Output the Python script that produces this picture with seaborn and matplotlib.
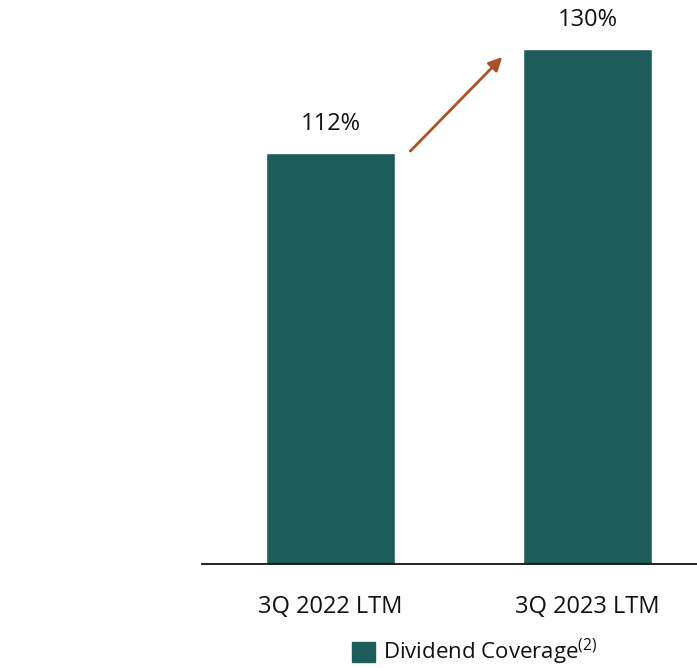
import matplotlib
matplotlib.use("Agg")
import matplotlib.pyplot as plt
import seaborn as sns
import pandas as pd
from matplotlib.patches import Patch

categories = ["3Q 2022 LTM", "3Q 2023 LTM"]
coverage = [112, 130]
series_name = "Dividend Coverage$^{(2)}$"

sns.set_theme(style="white")
plt.rcParams['font.family'] = ['Open Sans', 'DejaVu Sans']
plt.rcParams['mathtext.default'] = 'regular'

BAR = "#1E5C5A"
ARROW = "#A9522A"

df = pd.DataFrame({"period": categories, "value": coverage})

fig = plt.figure(figsize=(6.97, 6.68), dpi=100)
ax = fig.add_axes([202/697, 104/668, (697-202)/697 * 1.0, 564/668])

sns.barplot(data=df, x="period", y="value", color=BAR, width=0.5,
            saturation=1, ax=ax)

ax.set_xlim(-0.5, 1.427)
ax.set_ylim(40.7, 138.5)
for c in ax.containers:
    ax.bar_label(c, labels=[f"{v:.0f}%" for v in coverage], padding=12,
                 fontsize=17, color="#111111")

for s in ["top", "right", "left"]:
    ax.spines[s].set_visible(False)
ax.spines["bottom"].set_color("#111111")
ax.spines["bottom"].set_linewidth(1.3)
ax.set_yticks([])
ax.set_xlabel("")
ax.set_ylabel("")
ax.tick_params(axis="x", length=0, pad=22, labelsize=17, labelcolor="#111111")

ax.annotate("", xy=(0.669, 128.6), xytext=(0.311, 112.3),
            arrowprops=dict(arrowstyle="-|>", color=ARROW, lw=2,
                            mutation_scale=20, shrinkA=0, shrinkB=0),
            annotation_clip=False)

handles = [Patch(facecolor=BAR, edgecolor=BAR, label=series_name)]
fig.legend(handles=handles, loc="center", bbox_to_anchor=(475/697, 1 - 652/668),
           frameon=False, fontsize=16, handlelength=1.0, handleheight=1.0,
           handletextpad=0.4, borderpad=0, labelcolor="#111111")

fig.savefig("out.png", dpi=100)
